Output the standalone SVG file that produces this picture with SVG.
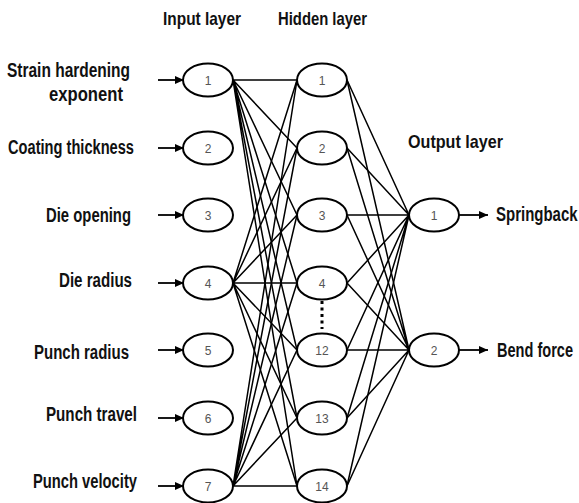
<svg xmlns="http://www.w3.org/2000/svg" width="579" height="503" viewBox="0 0 579 503">
  <style>
    .node ellipse { fill: #ffffff; stroke: #000000; stroke-width: 2; }
    .num { font-family: "Liberation Sans", Arial, sans-serif; font-size: 12px; fill: #555555; text-anchor: middle; }
    .lbl { font-family: "Liberation Sans", Arial, sans-serif; font-weight: bold; font-size: 20px; fill: #111111; }
    .head { font-family: "Liberation Sans", Arial, sans-serif; font-weight: bold; font-size: 19px; fill: #111111; }
    .wire { stroke: #000000; stroke-width: 1.5; fill: none; }
    .feed { stroke: #000000; stroke-width: 1.8; fill: none; marker-end: url(#tip); }
    .dots { stroke: #000000; stroke-width: 3; stroke-dasharray: 3 3.5; fill: none; }
  </style>
  <defs>
    <marker id="tip" markerUnits="userSpaceOnUse" markerWidth="10" markerHeight="10" refX="9" refY="5" orient="auto">
      <path d="M0,1 L9,5 L0,9 Z" fill="#000000"/>
    </marker>
  </defs>

  <rect width="579" height="503" fill="#ffffff"/>

  <!-- layer headings -->
  <text class="head" x="163" y="25" textLength="78" lengthAdjust="spacingAndGlyphs">Input layer</text>
  <text class="head" x="278" y="25" textLength="89" lengthAdjust="spacingAndGlyphs">Hidden layer</text>
  <text class="head" x="408" y="148" textLength="95" lengthAdjust="spacingAndGlyphs">Output layer</text>

  <!-- input and output labels -->
  <g id="labels">
    <text class="lbl" x="7" y="77" textLength="123" lengthAdjust="spacingAndGlyphs">Strain hardening</text>
    <text class="lbl" x="49" y="101" textLength="74" lengthAdjust="spacingAndGlyphs">exponent</text>
    <text class="lbl" x="8" y="154" textLength="126" lengthAdjust="spacingAndGlyphs">Coating thickness</text>
    <text class="lbl" x="46" y="222" textLength="85" lengthAdjust="spacingAndGlyphs">Die opening</text>
    <text class="lbl" x="59" y="287" textLength="73" lengthAdjust="spacingAndGlyphs">Die radius</text>
    <text class="lbl" x="34" y="359" textLength="95" lengthAdjust="spacingAndGlyphs">Punch radius</text>
    <text class="lbl" x="46" y="421" textLength="91" lengthAdjust="spacingAndGlyphs">Punch travel</text>
    <text class="lbl" x="33" y="488" textLength="104" lengthAdjust="spacingAndGlyphs">Punch velocity</text>
    <!-- narrowed by scaling so the labels stay inside the right edge -->
    <text class="lbl" transform="translate(496,221) scale(0.75,1)">Springback</text>
    <text class="lbl" transform="translate(497,357) scale(0.728,1)">Bend force</text>
  </g>

  <!-- connectors -->
  <g id="connectors">
    <!-- feed arrows into inputs -->
    <line class="feed" x1="158" y1="80" x2="184" y2="80"/>
    <line class="feed" x1="158" y1="148" x2="184" y2="148"/>
    <line class="feed" x1="158" y1="215" x2="184" y2="215"/>
    <line class="feed" x1="158" y1="283" x2="184" y2="283"/>
    <line class="feed" x1="158" y1="350" x2="184" y2="350"/>
    <line class="feed" x1="158" y1="418" x2="184" y2="418"/>
    <line class="feed" x1="158" y1="486" x2="184" y2="486"/>
    <!-- outputs -->
    <line class="feed" x1="459" y1="215" x2="488" y2="215"/>
    <line class="feed" x1="459" y1="350" x2="488" y2="350"/>

    <!-- input 1 to hidden -->
    <path class="wire" d="M233,80 L297,80 M233,80 L297,148 M233,80 L297,215 M233,80 L297,283 M233,80 L297,350 M233,80 L297,418 M233,80 L297,486"/>
    <!-- input 4 to hidden -->
    <path class="wire" d="M233,283 L297,80 M233,283 L297,148 M233,283 L297,215 M233,283 L297,283 M233,283 L297,350 M233,283 L297,418 M233,283 L297,486"/>
    <!-- input 7 to hidden -->
    <path class="wire" d="M233,486 L297,80 M233,486 L297,148 M233,486 L297,215 M233,486 L297,283 M233,486 L297,350 M233,486 L297,418 M233,486 L297,486"/>

    <!-- hidden to output 1 -->
    <path class="wire" d="M347,80 L409,215 M347,148 L409,215 M347,215 L409,215 M347,283 L409,215 M347,350 L409,215 M347,418 L409,215 M347,486 L409,215"/>
    <!-- hidden to output 2 -->
    <path class="wire" d="M347,80 L409,350 M347,148 L409,350 M347,215 L409,350 M347,283 L409,350 M347,350 L409,350 M347,418 L409,350 M347,486 L409,350"/>

    <!-- elided hidden units -->
    <line class="dots" x1="322" y1="301" x2="322" y2="329"/>
  </g>

  <!-- input layer -->
  <g id="in1" class="node"><ellipse cx="208" cy="80" rx="25" ry="16.5"/><text class="num" x="208" y="84.5">1</text></g>
  <g id="in2" class="node"><ellipse cx="208" cy="148" rx="25" ry="16.5"/><text class="num" x="208" y="152.5">2</text></g>
  <g id="in3" class="node"><ellipse cx="208" cy="215" rx="25" ry="16.5"/><text class="num" x="208" y="219.5">3</text></g>
  <g id="in4" class="node"><ellipse cx="208" cy="283" rx="25" ry="16.5"/><text class="num" x="208" y="287.5">4</text></g>
  <g id="in5" class="node"><ellipse cx="208" cy="350" rx="25" ry="16.5"/><text class="num" x="208" y="354.5">5</text></g>
  <g id="in6" class="node"><ellipse cx="208" cy="418" rx="25" ry="16.5"/><text class="num" x="208" y="422.5">6</text></g>
  <g id="in7" class="node"><ellipse cx="208" cy="486" rx="25" ry="16.5"/><text class="num" x="208" y="490.5">7</text></g>

  <!-- hidden layer -->
  <g id="h1" class="node"><ellipse cx="322" cy="80" rx="25" ry="16.5"/><text class="num" x="322" y="84.5">1</text></g>
  <g id="h2" class="node"><ellipse cx="322" cy="148" rx="25" ry="16.5"/><text class="num" x="322" y="152.5">2</text></g>
  <g id="h3" class="node"><ellipse cx="322" cy="215" rx="25" ry="16.5"/><text class="num" x="322" y="219.5">3</text></g>
  <g id="h4" class="node"><ellipse cx="322" cy="283" rx="25" ry="16.5"/><text class="num" x="322" y="287.5">4</text></g>
  <g id="h12" class="node"><ellipse cx="322" cy="350" rx="25" ry="16.5"/><text class="num" x="322" y="354.5">12</text></g>
  <g id="h13" class="node"><ellipse cx="322" cy="418" rx="25" ry="16.5"/><text class="num" x="322" y="422.5">13</text></g>
  <g id="h14" class="node"><ellipse cx="322" cy="486" rx="25" ry="16.5"/><text class="num" x="322" y="490.5">14</text></g>

  <!-- output layer -->
  <g id="out1" class="node"><ellipse cx="434" cy="215" rx="25" ry="16.5"/><text class="num" x="434" y="219.5">1</text></g>
  <g id="out2" class="node"><ellipse cx="434" cy="350" rx="25" ry="16.5"/><text class="num" x="434" y="354.5">2</text></g>
</svg>
